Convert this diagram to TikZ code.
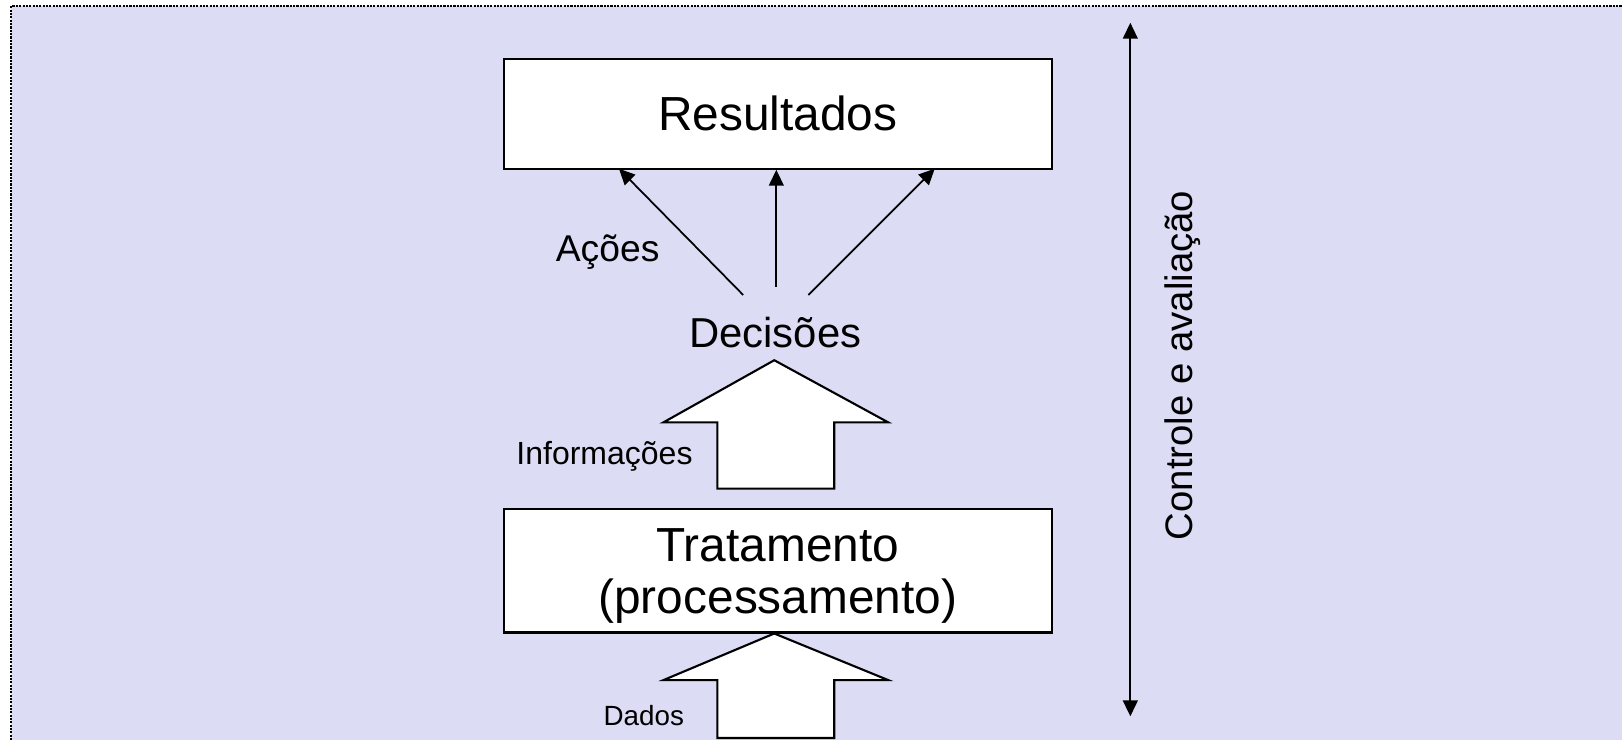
\documentclass[tikz,border=0pt]{standalone}
\usepackage{fontspec}
\setmainfont{Liberation Sans}
\usetikzlibrary{arrows.meta}
\definecolor{fundo}{RGB}{220,220,244}

\begin{document}
\begin{tikzpicture}[x=0.01035cm, y=-0.01035cm,
    caixa/.style={draw, fill=white, line width=0.6pt, minimum width=5.475cm, align=center,
                  font=\fontsize{13.6}{14.7}\selectfont},
    seta/.style={-{Triangle[length=4.5pt, width=4.2pt]}, line width=0.5pt},
    bloco/.style={draw, fill=white, line width=0.6pt, line join=miter}]
    \useasboundingbox (0, 0) rectangle (1567, 715);
    % fundo
    \fill [fundo]              (11, 6) rectangle (1567, 715);
    \draw [dash pattern=on 0.6pt off 0.35pt, line width=0.6pt] (11, 715) -- (11, 6) -- (1567, 6);
    % caixas
    \node [caixa, minimum height=1.097cm] (res)  at (751.5, 110)   {Resultados};
    \node [caixa, minimum height=1.232cm, text depth=0pt] (trat) at (751.5, 551.5) {Tratamento\\(processamento)};
    % textos
    \node [font=\fontsize{11.9}{13}\selectfont]  (dec)   at (749, 321) {Decisões};
    \node [font=\fontsize{10.6}{12}\selectfont]  (acoes) at (587, 244) {Ações};
    \node [font=\fontsize{9.1}{10}\selectfont]   (info)  at (584, 441) {Informações};
    \node [font=\fontsize{7.9}{9}\selectfont]    (dados) at (622, 691) {Dados};
    \node [font=\fontsize{10.9}{13}\selectfont, rotate=90] (ctrl) at (1143, 353) {Controle e avaliação};
    % acoes
    \coordinate (d1) at (718, 285);
    \coordinate (d2) at (750, 277);
    \coordinate (d3) at (781, 285);
    \coordinate (r1) at (598, 163);
    \coordinate (r3) at (903, 163);
    \draw [seta]     (d1) -- (r1);
    \draw [seta]     (d2) -- (d2 |- res.south);
    \draw [seta]     (d3) -- (r3);
    % setas largas
    \draw [bloco]    (748, 348) -- (858, 408) -- (806, 408) -- (806, 472) -- (693, 472) -- (693, 408) -- (641, 408) -- cycle;
    \draw [bloco]    (748, 612) -- (858, 657) -- (806, 657) -- (806, 713) -- (693, 713) -- (693, 657) -- (641, 657) -- cycle;
    % controle
    \coordinate (ctop) at (1092, 22);
    \coordinate (cbot) at (1092, 692);
    \draw [seta, {Triangle[length=4.5pt, width=4.2pt]}-{Triangle[length=4.5pt, width=4.2pt]}] (ctop) -- (cbot);
\end{tikzpicture}
\end{document}
